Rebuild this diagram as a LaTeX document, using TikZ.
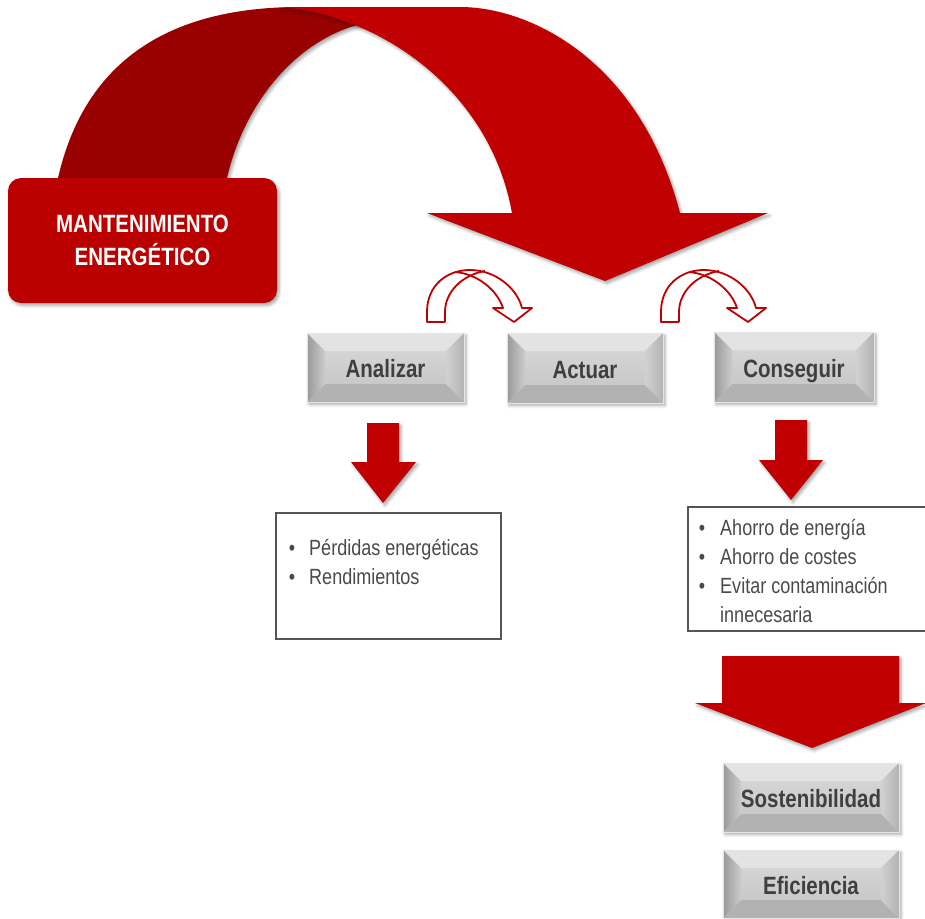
\documentclass[tikz,border=0pt]{standalone}
\usepackage{fontspec}
\setmainfont{Liberation Sans}[FakeStretch=0.82]
\usetikzlibrary{calc,shadows.blur}

\definecolor{arrowred}{HTML}{C00000}
\definecolor{darkred}{HTML}{990000}
\definecolor{boxred}{HTML}{BB0000}
\definecolor{labelgray}{HTML}{3F3F3F}
\definecolor{listgray}{HTML}{4A4A4A}
\definecolor{framegray}{HTML}{555555}

\tikzset{
  softshadow/.style={blur shadow={shadow xshift=2pt, shadow yshift=-2.5pt,
      shadow blur radius=3pt, shadow opacity=35}},
  redarrow/.style={fill=arrowred, softshadow},
  titlebox/.style={fill=boxred, rounded corners=13pt, minimum width=269pt,
      minimum height=125pt, text=white, align=center, inner sep=0pt,
      font=\fontsize{25}{33}\selectfont\bfseries, softshadow},
  graybox/.style={draw=white!90!black, line width=0.5pt,
      top color=white!86!black, bottom color=white!76!black,
      minimum height=69pt, inner sep=0pt, text=labelgray,
      text height=20pt, text depth=0pt,
      font=\fontsize{25}{30}\selectfont\bfseries, softshadow,
      path picture={
        \path (path picture bounding box.north west) coordinate (bnw)
              (path picture bounding box.north east) coordinate (bne)
              (path picture bounding box.south west) coordinate (bsw)
              (path picture bounding box.south east) coordinate (bse);
        % bevelled facets
        \fill[white!89!black] (bnw) -- (bne) -- ($(bne)+(-18,18)$) -- ($(bnw)+(18,18)$) -- cycle;
        \fill[white!70!black] (bsw) -- (bse) -- ($(bse)+(-18,-18)$) -- ($(bsw)+(18,-18)$) -- cycle;
        \shade[left color=white!60!black, right color=white!80!black]
          (bnw) -- ($(bnw)+(18,18)$) -- ($(bsw)+(18,-18)$) -- (bsw) -- cycle;
        \shade[left color=white!82!black, right color=white!70!black]
          (bne) -- ($(bne)+(-18,18)$) -- ($(bse)+(-18,-18)$) -- (bse) -- cycle;
      }},
  listbox/.style={draw=framegray, line width=1.5pt, fill=white, inner sep=0pt},
  listitem/.style={anchor=base west, inner sep=0pt, text=listgray,
      font=\fontsize{22}{29}\selectfont},
  bulletmark/.style={anchor=base, inner sep=0pt, text=listgray,
      font=\fontsize{22}{29}\selectfont},
  turnarrow/.pic={
    % white body of the bent arrow
    \fill[white] (0,0) -- (0,-10) .. controls (0,-37) and (20,-52) .. (43,-52)
      .. controls (68,-52) and (90,-34) .. (95,-14) -- (105,-14) -- (87,0)
      -- (66,-14) -- (76,-14) .. controls (70,-32) and (58,-45) .. (43,-46)
      .. controls (30,-45) and (18,-30) .. (18,-10) -- (18,0) -- cycle;
    % red outline, with the two inner edges crossing under the crest
    \draw[arrowred, line width=1.8pt, line join=round]
      (18,0) -- (0,0) -- (0,-10) .. controls (0,-37) and (20,-52) .. (43,-52)
      .. controls (68,-52) and (90,-34) .. (95,-14) -- (105,-14) -- (87,0)
      -- (66,-14) -- (76,-14) .. controls (70,-32) and (51,-48) .. (28,-50);
    \draw[arrowred, line width=1.8pt, line join=round]
      (18,0) -- (18,-10) .. controls (18,-30) and (35,-47) .. (58,-51);
  }
}

\begin{document}
\begin{tikzpicture}[x=1pt, y=-1pt]
\useasboundingbox (0,0) rectangle (925,918);

% large bent arrow: dark rising band, then the bright descending band over it
\fill[darkred, softshadow] (55,192) -- (58,178) .. controls (85,60) and (170,7) .. (300,7)
  -- (345,7) -- (370,22) .. controls (300,35) and (245,100) .. (227,178) -- (224,192) -- cycle;
\fill[redarrow] (280,7) -- (460,7) .. controls (530,7) and (640,60) .. (680,213)
  -- (768,213) -- (605,281) -- (427,213) -- (512,213)
  .. controls (490,90) and (380,15) .. (280,7) -- cycle;

% title block
\node[titlebox] (title) at (142.5,240.5) {MANTENIMIENTO\\ENERGÉTICO};

% small bent arrows between the steps
\pic at (427,322) {turnarrow};
\pic at (661,322) {turnarrow};

% steps
\node[graybox, minimum width=157pt] (ana) at (385.5,367.5) {Analizar};
\node[graybox, minimum width=156pt, minimum height=70pt] (act) at (585,368) {Actuar};
\node[graybox, minimum width=160pt, minimum height=70pt] (con) at (794,367) {Conseguir};

% downward arrows under the steps
\fill[redarrow] (367,423) -- (399,423) -- (399,462) -- (416,462) -- (383,503)
  -- (351,462) -- (367,462) -- cycle;
\fill[redarrow] (775,420) -- (807,420) -- (807,460) -- (823,460) -- (791,500)
  -- (759,460) -- (775,460) -- cycle;

% lists
\node[listbox, minimum width=225pt, minimum height=126pt] (lista) at (388.5,576) {};
\node[bulletmark] (ba1) at (292,555) {•};
\node[listitem] (ia1) at (309,555) {Pérdidas energéticas};
\node[bulletmark] (ba2) at (292,584) {•};
\node[listitem] (ia2) at (309,584) {Rendimientos};

\node[listbox, minimum width=239pt, minimum height=124pt] (listb) at (807.5,569) {};
\node[bulletmark] (bb1) at (702,535) {•};
\node[listitem] (ib1) at (720,535) {Ahorro de energía};
\node[bulletmark] (bb2) at (702,564) {•};
\node[listitem] (ib2) at (720,564) {Ahorro de costes};
\node[bulletmark] (bb3) at (702,593) {•};
\node[listitem] (ib3) at (720,593) {Evitar contaminación};
\node[listitem] (ib4) at (720,622) {innecesaria};

% wide arrow towards the results
\fill[redarrow] (722,656) -- (899,656) -- (899,703) -- (926,703) -- (812,748)
  -- (695,703) -- (722,703) -- cycle;

% results
\node[graybox, minimum width=176pt] (sos) at (811,797.5) {Sostenibilidad};
\node[graybox, minimum width=176pt, minimum height=68pt] (efi) at (811,884) {Eficiencia};
\end{tikzpicture}
\end{document}
